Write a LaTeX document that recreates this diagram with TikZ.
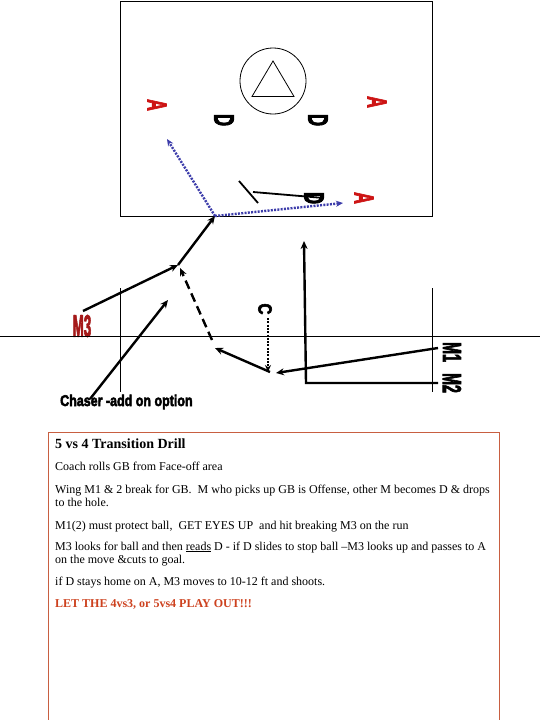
\documentclass[tikz,border=0pt]{standalone}
\usepackage{fontspec}
\usepackage{graphicx}
\setmainfont{Liberation Serif}
\newfontfamily\labfont{Liberation Sans Bold}[FakeBold=3.5]
\usetikzlibrary{arrows.meta}
\definecolor{bluepath}{RGB}{60,60,170}
\definecolor{redA}{RGB}{205,20,20}
\definecolor{darkred}{RGB}{165,25,25}
\definecolor{boxborder}{RGB}{200,95,65}
\definecolor{redtext}{RGB}{205,65,30}
\newcommand{\sq}[3]{\scalebox{#1}[1]{\fontsize{#2}{#2}\selectfont #3}}
\begin{document}
\begin{tikzpicture}[x=1pt,y=-1pt,
  lab/.style={inner sep=0pt, font=\labfont},
  rotlab/.style={lab, rotate=-90},
  attack/.style={rotlab, text=redA},
  defend/.style={rotlab, text=black},
  thinline/.style={line width=0.8pt},
  runline/.style={line width=2.4pt},
  runarrow/.style={runline, -{Stealth[length=8pt,width=7pt]}},
  passarrow/.style={draw=bluepath, line width=2.4pt, dash pattern=on 2pt off 1.3pt, -{Stealth[length=7pt,width=6pt]}},
  txt/.style={anchor=base west, inner sep=0pt, font=\fontsize{12}{13}\selectfont},
]
\useasboundingbox (0,0) rectangle (540,720);
\fill[white] (0,0) rectangle (540,720);

% field
\draw[thinline] (120,1) rectangle (432,216);
\node[draw, circle, thinline, minimum size=66pt, inner sep=0pt] (crease) at (273,81) {};
\draw[thinline] (273,61) -- (252,96.5) -- (294,96.5) -- cycle;

% players
\node[attack] (A1) at (157,105) {\sq{0.6}{27}{A}};
\node[attack] (A2) at (377,102) {\sq{0.6}{27}{A}};
\node[attack] (A3) at (364,198) {\sq{0.6}{27}{A}};
\node[defend] (D1) at (224,120) {\sq{0.6}{28}{D}};
\node[defend] (D2) at (318,120) {\sq{0.6}{28}{D}};
\node[defend] (D3) at (314,198) {\sq{0.6}{28}{D}};
\node[defend] (C) at (265,309) {\sq{0.8}{19}{C}};
\node[defend] (M1) at (452,352) {\sq{0.55}{26}{M1}};
\node[defend] (M2) at (452,383) {\sq{0.55}{26}{M2}};
\node[lab, text=darkred] (M3) at (82,326) {\sq{0.43}{31}{M3}};
\node[lab, anchor=base west] (chaser) at (60,406) {\sq{0.8}{15.6}{Chaser -add on option}};

% stick of D3
\coordinate (s1) at (239,181);
\coordinate (s2) at (258,203);
\coordinate (s3) at (253,192);
\draw[line width=1.8pt] (s1) -- (s2);
\draw[line width=1.8pt] (s3) -- (D3.north);

% lines of the field below
\coordinate (hl) at (0,336);
\coordinate (hr) at (540,336);
\coordinate (vl1) at (120,288);
\coordinate (vl2) at (120,392);
\coordinate (vr1) at (432,288);
\coordinate (vr2) at (432,392);
\draw[thinline] (hl) -- (hr);
\draw[thinline] (vl1) -- (vl2);
\draw[thinline] (vr1) -- (vr2);

% movement
\coordinate (m3start) at (83,311);
\coordinate (cut) at (178,265);
\coordinate (catch) at (215,216);
\coordinate (passL) at (167,139);
\coordinate (passR) at (343,203);
\coordinate (chStart) at (90,399);
\coordinate (chEnd) at (168,300);
\coordinate (gbL) at (215,348);
\coordinate (dashS) at (212,340);
\coordinate (dashE) at (180,268);
\coordinate (gb) at (270,372);
\coordinate (cStart) at (268,318);
\coordinate (cEnd) at (268,372);
\coordinate (m1s) at (438,348);
\coordinate (m1e) at (276,373);
\coordinate (m2s) at (438,383);
\coordinate (m2c) at (306,383);
\coordinate (m2e) at (304,241);

\draw[runarrow] (m3start) -- (cut);
\draw[runarrow] (cut) -- (catch);
\draw[passarrow] (catch) -- (passL);
\draw[passarrow] (catch) -- (passR);
\draw[runarrow] (chStart) -- (chEnd);
\draw[runarrow] (gb) -- (gbL);
\draw[runarrow, dash pattern=on 9pt off 5pt] (dashS) -- (dashE);
\draw[runline, dash pattern=on 2pt off 1.3pt, -{Stealth[length=7pt,width=6pt]}] (cStart) -- (cEnd);
\draw[runarrow] (m1s) -- (m1e);
\draw[runarrow] (m2s) -- (m2c) -- (m2e);

% text box
\draw[boxborder, line width=0.9pt] (48,432.5) rectangle (499,730);
\node[txt, font=\fontsize{14}{15}\selectfont\bfseries] (t0) at (55,448) {5 vs 4 Transition Drill};
\node[txt] (t1) at (55,470) {Coach rolls GB from Face-off area};
\node[txt] (t2) at (55,493) {Wing M1 \& 2 break for GB.\ \ M who picks up GB is Offense, other M becomes D \& drops};
\node[txt] (t3) at (55,506) {to the hole.};
\node[txt] (t4) at (55,529) {M1(2) must protect ball,\ \ GET EYES UP\ \ and hit breaking M3 on the run};
\node[txt] (t5) at (55,550) {M3 looks for ball and then \underline{reads} D - if D slides to stop ball –M3 looks up and passes to A};
\node[txt] (t6) at (55,563) {on the move \&cuts to goal.};
\node[txt] (t7) at (55,585) {if D stays home on A, M3 moves to 10-12 ft and shoots.};
\node[txt, font=\fontsize{12}{13}\selectfont\bfseries, text=redtext] (t8) at (55,607) {LET THE 4vs3, or 5vs4 PLAY OUT!!!};
\end{tikzpicture}
\end{document}
